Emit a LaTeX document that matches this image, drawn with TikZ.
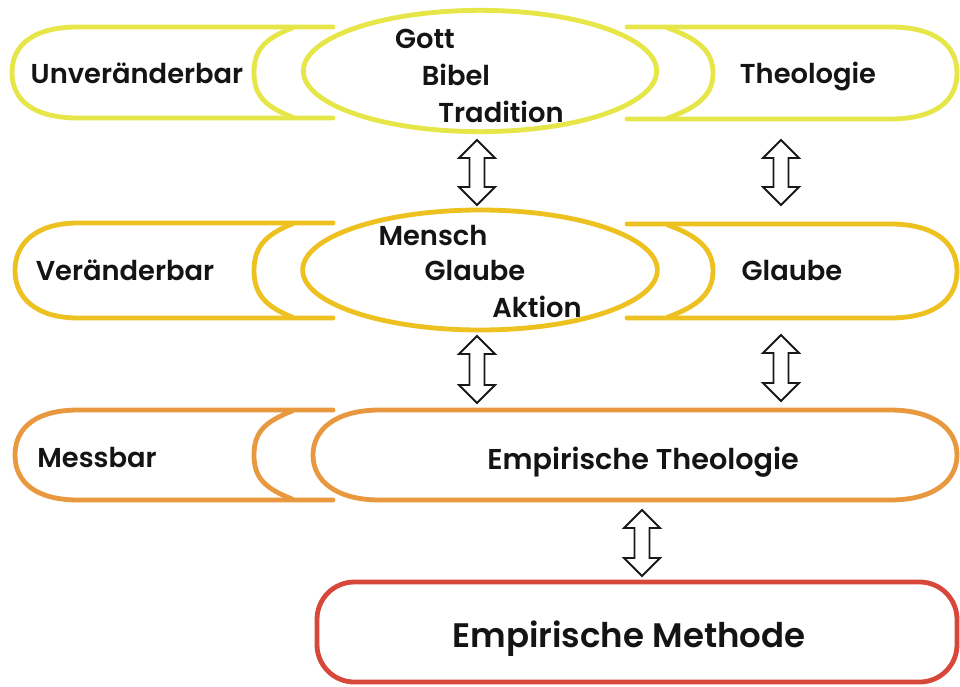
\documentclass[tikz,border=0pt]{standalone}
\usepackage{fontspec}
\usetikzlibrary{shapes.geometric}
\IfFontExistsTF{Poppins SemiBold}{\newfontfamily\lab{Poppins SemiBold}}{\IfFontExistsTF{Poppins Medium}{\newfontfamily\lab{Poppins Medium}}{\newfontfamily\lab{Poppins}}}
\definecolor{cyel}{RGB}{230,230,72}
\definecolor{cgold}{RGB}{236,193,32}
\definecolor{corg}{RGB}{232,152,62}
\definecolor{cred}{RGB}{216,72,58}
\tikzset{
  rim/.style={line width=3.6pt, line cap=round, line join=round},
  lbl/.style={anchor=base, inner sep=0pt, font=\lab\fontsize{20.5}{22}\selectfont, text=black!92},
  midlbl/.style={anchor=base, inner sep=0pt, font=\lab\fontsize{21.5}{23}\selectfont, text=black!92},
  biglbl/.style={anchor=base, inner sep=0pt, font=\lab\fontsize{25.5}{27}\selectfont, text=black!92},
  arr/.style={draw=black!90, line width=1.4pt, fill=white, line join=miter}
}
\newcommand\LeftPiece[4]{% colour, top, bottom, left x
  \draw[rim,#1] (333,#2) -- (78,#2) .. controls ({#4+22},#2) and (#4,{(#2+#3)/2-28}) .. (#4,{(#2+#3)/2})
     .. controls (#4,{(#2+#3)/2+28}) and ({#4+22},#3) .. (78,#3) -- (333,#3);
  \draw[rim,#1] (292,{#2+1}) .. controls (264,{#2+12}) and (254,{(#2+#3)/2-22}) .. (254,{(#2+#3)/2})
     .. controls (254,{(#2+#3)/2+22}) and (264,{#3-12}) .. (292,{#3-1});
}
\newcommand\RightPiece[3]{% colour, top, bottom
  \draw[rim,#1] (627,#2) -- (890,#2) .. controls (935,#2) and (957,{(#2+#3)/2-28}) .. (957,{(#2+#3)/2})
     .. controls (957,{(#2+#3)/2+28}) and (935,#3) .. (890,#3) -- (627,#3);
  \draw[rim,#1] (668,{#2+1}) .. controls (698,{#2+12}) and (713,{(#2+#3)/2-22}) .. (713,{(#2+#3)/2})
     .. controls (713,{(#2+#3)/2+22}) and (698,{#3-12}) .. (668,{#3-1});
}
\newcommand\DblArrow[3]{% x, top, bottom
  \draw[arr] (#1,#2) -- ({#1+18},{#2+18}) -- ({#1+7.5},{#2+18}) -- ({#1+7.5},{#3-18}) -- ({#1+18},{#3-18})
    -- (#1,#3) -- ({#1-18},{#3-18}) -- ({#1-7.5},{#3-18}) -- ({#1-7.5},{#2+18}) -- ({#1-18},{#2+18}) -- cycle;
}
\begin{document}
\begin{tikzpicture}[x=0.75pt,y=-0.75pt]
\useasboundingbox (0,0) rectangle (960,686);
\fill[white] (0,0) rectangle (960,686);

% row 1
\LeftPiece{cyel}{27}{118}{12}
\RightPiece{cyel}{27}{119}
\node[draw=cyel, rim, ellipse, minimum width=265pt, minimum height=91pt, inner sep=0pt] (e1) at (480,71) {};
\node[lbl] (unv) at (137,83) {Unveränderbar};
\node[lbl] (theo) at (808,83) {Theologie};
\node[lbl] (gott) at (425,48) {Gott};
\node[lbl] (bibel) at (456,85) {Bibel};
\node[lbl] (trad) at (501,122) {Tradition};

% row 2
\LeftPiece{cgold}{223}{318}{15}
\RightPiece{cgold}{224}{318}
\node[draw=cgold, rim, ellipse, minimum width=266pt, minimum height=90pt, inner sep=0pt] (e2) at (480,270) {};
\node[lbl] (ver) at (125,280) {Veränderbar};
\node[lbl] (glr) at (792,280) {Glaube};
\node[lbl] (mensch) at (433,245) {Mensch};
\node[lbl] (glm) at (475,280) {Glaube};
\node[lbl] (akt) at (537,317) {Aktion};

% row 3
\LeftPiece{corg}{410}{500}{15}
\draw[rim,corg] (380,410) -- (890,410) .. controls (935,410) and (957,430) .. (957,455)
   .. controls (957,480) and (935,500) .. (890,500) -- (380,500)
   .. controls (335,500) and (313,480) .. (313,455) .. controls (313,430) and (335,410) .. (380,410) -- cycle;
\node[inner sep=0pt, minimum width=480pt, minimum height=67pt] (et) at (635,455) {};
\node[lbl] (mess) at (97,467) {Messbar};
\node[midlbl] (etl) at (643,469) {Empirische Theologie};

% row 4
\node[draw=cred, rim, rounded corners=28pt, minimum width=480pt, minimum height=75pt, inner sep=0pt] (em) at (637,632) {};
\node[biglbl] (eml) at (629,647) {Empirische Methode};

% arrows
\DblArrow{477}{140}{205}
\DblArrow{781}{140}{205}
\DblArrow{477}{336}{403}
\DblArrow{781}{335}{401}
\DblArrow{642}{510}{576}
\end{tikzpicture}
\end{document}
